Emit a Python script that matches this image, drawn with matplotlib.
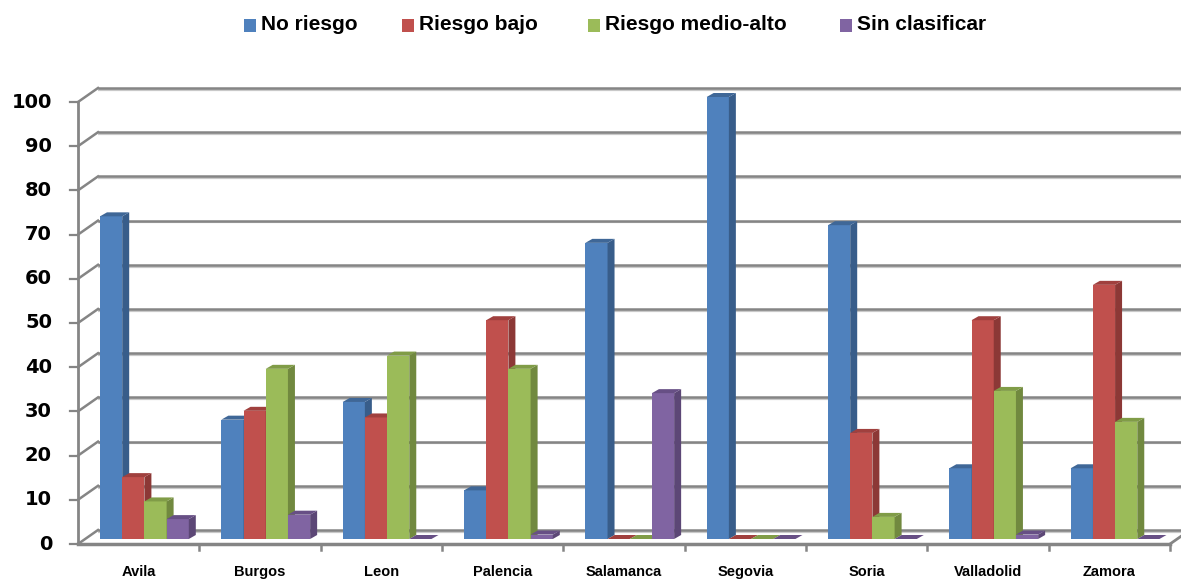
import matplotlib
matplotlib.use("Agg")
import matplotlib.pyplot as plt
from matplotlib.patches import Rectangle, Polygon

# Porcentaje de casos por provincia y nivel de riesgo
provincias = ["Avila", "Burgos", "Leon", "Palencia", "Salamanca",
              "Segovia", "Soria", "Valladolid", "Zamora"]
series = ["No riesgo", "Riesgo bajo", "Riesgo medio-alto", "Sin clasificar"]
no_riesgo = [73, 27, 31, 11, 67, 100, 71, 16, 16]
riesgo_bajo = [14, 29, 27.5, 49.5, 0, 0, 24, 49.5, 57.5]
riesgo_medio_alto = [8.5, 38.5, 41.5, 38.5, 0, 0, 5, 33.5, 26.5]
sin_clasificar = [4.5, 5.5, 0, 1, 33, 0, 0, 1, 0]
yticks = list(range(0, 101, 10))

valores = [no_riesgo, riesgo_bajo, riesgo_medio_alto, sin_clasificar]
frente = ["#4F81BD", "#C0504D", "#9BBB59", "#8064A2"]
lado = ["#385D8A", "#8C3836", "#71893F", "#5C4776"]
techo = ["#3F6797", "#A0403E", "#809C47", "#674F85"]

W_PX, H_PX = 1181, 579
fig = plt.figure(figsize=(W_PX / 100, H_PX / 100), dpi=100)
left, right, bottom, top = 78, 1170, 544, 102
ax = fig.add_axes([left / W_PX, (H_PX - bottom) / H_PX,
                   (right - left) / W_PX, (bottom - top) / H_PX])
ax.set_xlim(0, len(provincias))
ax.set_ylim(0, 100)
ax.axis("off")

ux = (right - left) / len(provincias)   # px por categoria
uy = (bottom - top) / 100.0             # px por unidad

# profundidad de las paredes y de las barras
wdx, wdy = 20 / ux, 14 / uy
bdx, bdy = 7 / ux, 4 / uy

grid_dark = "#858585"
grid_light = "#c9c9c9"
fam = ["Liberation Sans", "DejaVu Sans"]

# paredes: lineas de la cuadricula
for v in yticks:
    ax.plot([wdx, len(provincias) + wdx], [v + wdy - 1.8 / uy] * 2, color=grid_light,
            lw=1.6, clip_on=False, zorder=1, solid_capstyle="butt")
    ax.plot([wdx, len(provincias) + wdx], [v + wdy] * 2, color=grid_dark,
            lw=1.8, clip_on=False, zorder=1, solid_capstyle="butt")
    ax.plot([0, wdx], [v, v + wdy], color=grid_dark, lw=1.8, clip_on=False, zorder=1)
    ax.plot([-8 / ux, 0], [v, v], color=grid_dark, lw=1.6, clip_on=False, zorder=1)
    ax.text(-26 / ux, v, str(v), ha="right", va="center", fontsize=14,
            fontweight="bold", color="black")

ax.plot([0, 0], [0, 100], color=grid_dark, lw=2, clip_on=False, zorder=1)
ax.plot([0, len(provincias)], [0, 0], color=grid_dark, lw=2.5, clip_on=False, zorder=1)
ax.plot([len(provincias), len(provincias) + wdx], [0, wdy], color=grid_dark, lw=2,
        clip_on=False, zorder=1)
for i in range(1, len(provincias) + 1):
    ax.plot([i, i], [0, -6 / uy], color=grid_dark, lw=1.8, clip_on=False, zorder=1)

# barras con efecto 3D
base = 5 / uy
ancho = 22.2 / ux
inicio = 22 / ux
z = 2
for i, prov in enumerate(provincias):
    for j, serie in enumerate(valores):
        v = serie[i]
        x0 = i + inicio + j * ancho
        y1 = base + v
        if v > 0:
            ax.add_patch(Rectangle((x0, base), ancho, v, fc=frente[j], ec="none",
                                   zorder=z, clip_on=False))
            ax.add_patch(Polygon([(x0 + ancho, base), (x0 + ancho + bdx, base + bdy),
                                  (x0 + ancho + bdx, y1 + bdy), (x0 + ancho, y1)],
                                 closed=True, fc=lado[j], ec="none", zorder=z,
                                 clip_on=False))
        ax.add_patch(Polygon([(x0, y1), (x0 + bdx, y1 + bdy),
                              (x0 + ancho + bdx, y1 + bdy), (x0 + ancho, y1)],
                             closed=True, fc=techo[j], ec="none", zorder=z + 0.5,
                             clip_on=False))
        z += 1
    ax.text(i + 0.5, -21 / uy, prov, ha="center", va="top", fontsize=10.5,
            fontweight="bold", family=fam, color="black")

# leyenda
leg_x = [244, 402, 588, 840]
for j, nombre in enumerate(series):
    fig.patches.append(Rectangle((leg_x[j] / W_PX, 1 - 32 / H_PX), 12 / W_PX, 13 / H_PX,
                                 transform=fig.transFigure, fc=frente[j], ec="none"))
    fig.text((leg_x[j] + 17) / W_PX, 1 - 25 / H_PX, nombre, ha="left", va="center",
             fontsize=15, fontweight="bold", family=fam, color="black")

fig.savefig("out.png", dpi=100)
